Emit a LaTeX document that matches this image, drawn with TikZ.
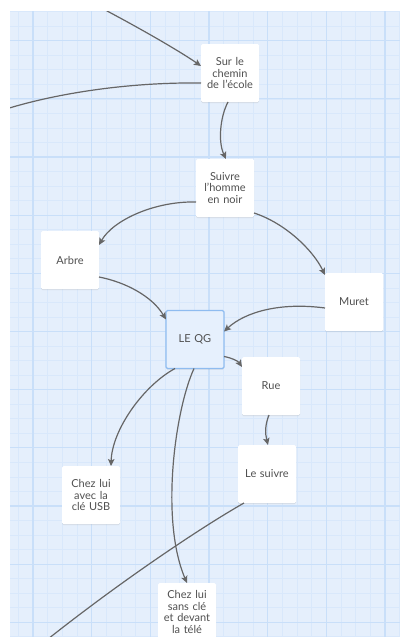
\documentclass[tikz,border=0pt]{standalone}
\usepackage{fontspec}
\setmainfont{Lato}
\usetikzlibrary{arrows.meta,shadows}
\definecolor{bgblue}{RGB}{229,239,252}
\definecolor{minorline}{RGB}{217,232,251}
\definecolor{majorline}{RGB}{201,223,249}
\definecolor{txtgray}{RGB}{80,80,80}
\definecolor{edgegray}{RGB}{102,102,102}
\definecolor{qgfill}{RGB}{230,240,253}
\definecolor{qgborder}{RGB}{143,188,240}
\tikzset{
  card/.style={fill=white, draw=none, rounded corners=1.5pt, minimum width=58pt, minimum height=58pt,
    inner sep=2pt, outer sep=0pt, align=center, text width=54pt, font=\fontsize{11pt}{11.5pt}\selectfont,
    text=txtgray, drop shadow={shadow xshift=0pt, shadow yshift=-1pt, opacity=0.18}},
  qgcard/.style={card, fill=qgfill, draw=qgborder, line width=1.1pt},
  link/.style={draw=edgegray, line width=1.2pt, -{Stealth[length=7pt,width=6.5pt,inset=1.5pt]}},
  plainlink/.style={draw=edgegray, line width=1.2pt}
}
\begin{document}
\begin{tikzpicture}[x=1pt,y=-1pt]
\useasboundingbox (0,0) rectangle (400,637);
\fill[white] (0,0) rectangle (400,637);
\begin{scope}
\clip (10,11) rectangle (400,637);
\fill[bgblue] (10,11) rectangle (400,637);
% minor grid
\foreach \i in {0,...,27} { \draw[minorline, line width=0.7pt] ({18.33+14.667*\i},11) -- ({18.33+14.667*\i},637); }
\foreach \i in {0,...,43} { \draw[minorline, line width=0.7pt] (10,{11.62+14.54*\i}) -- (400,{11.62+14.54*\i}); }
% major grid
\foreach \i in {0,...,6} { \draw[majorline, line width=1.1pt] ({33.0+58.67*\i},11) -- ({33.0+58.67*\i},637); }
\foreach \i in {0,...,10} { \draw[majorline, line width=1.1pt] (10,{40.7+58.16*\i}) -- (400,{40.7+58.16*\i}); }

% nodes
\node[card] (sur) at (230,73) {Sur le\\chemin\\de l’école};
\node[card] (suivre) at (225,188) {Suivre\\l’homme\\en noir};
\node[card] (arbre) at (70,260) {Arbre};
\node[card] (muret) at (354,302) {Muret};
\node[qgcard] (qg) at (195,339.5) {LE QG};
\node[card] (rue) at (271,386) {Rue};
\node[card] (lesuivre) at (267,474) {Le suivre};
\node[card] (usb) at (91,495) {Chez lui\\avec la\\clé USB};
\node[card] (sans) at (187,612) {Chez lui\\sans clé\\et devant\\la télé};

\coordinate (topin) at (88,1);
\coordinate (leftout) at (0,111);
\coordinate (bottomout) at (38,647);

% connectors
\draw[link] (topin) .. controls (125,20) and (175,48) .. ([yshift=7pt]sur.west);
\draw[plainlink] ([yshift=-10pt]sur.west) .. controls (120,82) and (45,96) .. (leftout);
\draw[link] ([xshift=-2pt]sur.south) .. controls (220,117) and (218,142) .. ([xshift=1pt]suivre.north);
\draw[link] ([yshift=-14pt]suivre.west) .. controls (155,201) and (113,220) .. ([yshift=15pt]arbre.east);
\draw[link] ([yshift=-25pt]suivre.east) .. controls (285,223) and (313,250) .. ([yshift=27pt]muret.west);
\draw[link] ([yshift=-17pt]arbre.east) .. controls (125,282) and (152,296) .. ([yshift=20pt]qg.west);
\draw[link] ([yshift=-6pt]muret.west) .. controls (280,302) and (245,312) .. ([yshift=8pt]qg.east);
\draw[link] ([yshift=-17pt]qg.east) .. controls (232,358) and (238,361) .. ([yshift=19pt]rue.west);
\draw[link] ([xshift=-2pt]rue.south) .. controls (265,425) and (265,433) .. ([xshift=1pt]lesuivre.north);
\draw[link] ([xshift=-20pt]qg.south) .. controls (143,386) and (112,430) .. ([xshift=20pt]usb.north);
\draw[link] ([xshift=-1pt]qg.south) .. controls (175,410) and (160,520) .. (sans.north);
\draw[plainlink] ([xshift=-23pt]lesuivre.south) .. controls (200,528) and (115,585) .. (bottomout);
\end{scope}
\end{tikzpicture}
\end{document}
